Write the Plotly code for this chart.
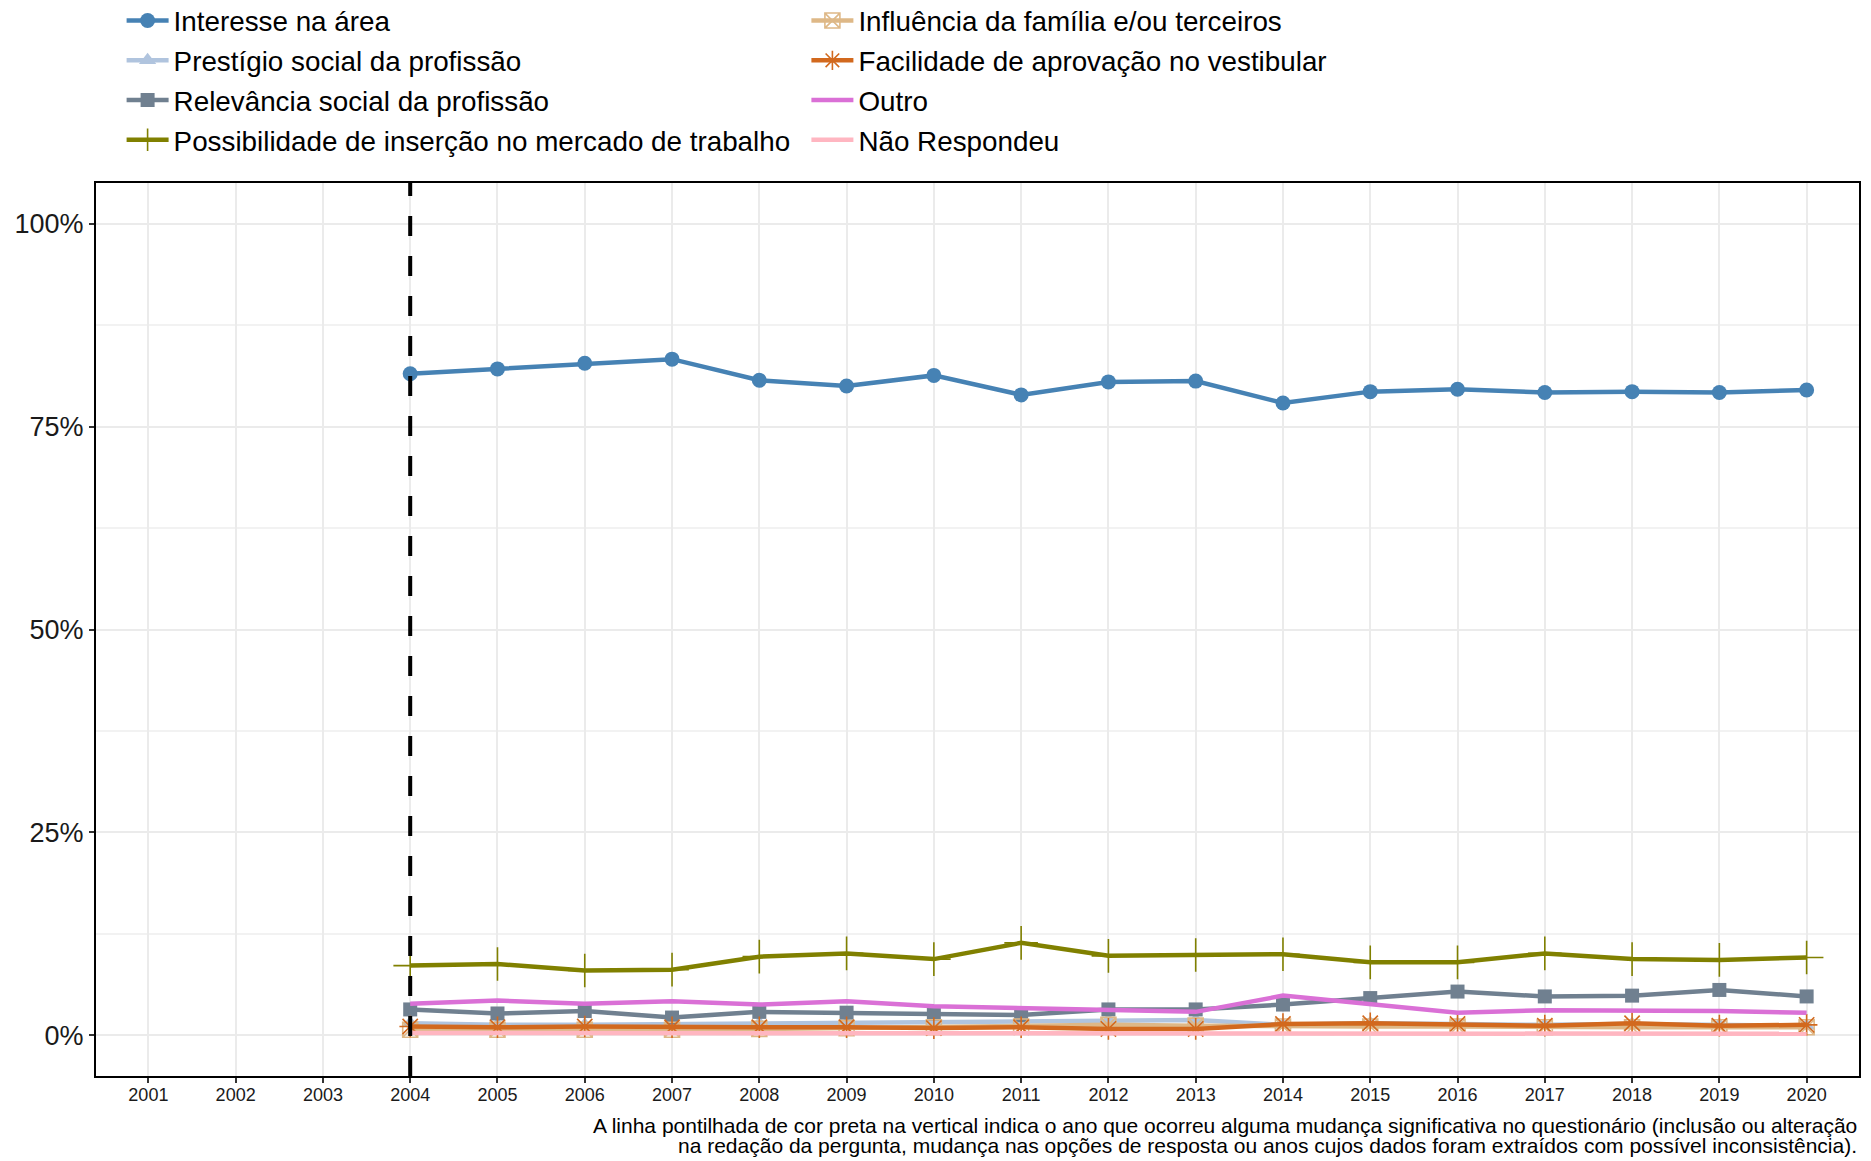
import plotly.graph_objects as go

# ---------------- data ----------------
anos = [2004, 2005, 2006, 2007, 2008, 2009, 2010, 2011, 2012,
        2013, 2014, 2015, 2016, 2017, 2018, 2019, 2020]
anos_eixo = list(range(2001, 2021))
anos_mudanca = [2004]

interesse = [81.5, 82.1, 82.8, 83.3, 80.7, 80.0, 81.3, 78.9, 80.5,
             80.6, 77.9, 79.3, 79.6, 79.2, 79.3, 79.2, 79.5]
prestigio = [1.5, 1.3, 1.3, 1.4, 1.5, 1.5, 1.6, 1.8, 1.9,
             1.9, 1.3, 1.5, 1.4, 1.3, 1.4, 1.3, 1.2]
relevancia = [3.2, 2.7, 3.0, 2.2, 2.9, 2.8, 2.7, 2.5, 3.2,
              3.2, 3.8, 4.6, 5.4, 4.8, 4.9, 5.6, 4.8]
possibilidade = [8.6, 8.8, 8.0, 8.1, 9.7, 10.1, 9.4, 11.4, 9.8,
                 9.9, 10.0, 9.0, 9.0, 10.1, 9.4, 9.3, 9.6]
influencia = [0.7, 0.7, 0.7, 0.7, 0.8, 0.9, 1.0, 1.1, 1.3,
              1.2, 1.1, 1.1, 1.1, 1.0, 1.0, 1.0, 1.0]
facilidade = [1.1, 1.0, 1.1, 1.0, 1.0, 1.0, 0.9, 1.0, 0.8,
              0.8, 1.4, 1.5, 1.4, 1.2, 1.5, 1.2, 1.3]
outro = [3.9, 4.3, 3.9, 4.2, 3.8, 4.2, 3.6, 3.4, 3.1,
         2.9, 4.9, 3.8, 2.8, 3.1, 3.1, 3.0, 2.8]
nao_respondeu = [0.3, 0.3, 0.3, 0.3, 0.3, 0.3, 0.2, 0.2, 0.2,
                 0.2, 0.2, 0.2, 0.2, 0.2, 0.2, 0.2, 0.2]

y_ticks = [0, 25, 50, 75, 100]
y_ticktext = ["0%", "25%", "50%", "75%", "100%"]
y_minor = [12.5, 37.5, 62.5, 87.5]

legenda = "A linha pontilhada de cor preta na vertical indica o ano que ocorreu alguma mudança significativa no questionário (inclusão ou alteração"
legenda2 = "na redação da pergunta, mudança nas opções de resposta ou anos cujos dados foram extraídos com possível inconsistência)."

# name, values, color, symbol, size, filled, legend
series = [
    ("Interesse na área", interesse, "#4682B4", "circle", 15, True, "legend"),
    ("Prestígio social da profissão", prestigio, "#B0C4DE", "triangle-up", 15, True, "legend"),
    ("Relevância social da profissão", relevancia, "#708090", "square", 14, True, "legend"),
    ("Possibilidade de inserção no mercado de trabalho", possibilidade, "#808000", "cross-thin-open", 24, False, "legend"),
    ("Influência da família e/ou terceiros", influencia, "#DEB887", "square-x-open", 15, False, "legend2"),
    ("Facilidade de aprovação no vestibular", facilidade, "#D2691E", "asterisk-open", 18, False, "legend2"),
    ("Outro", outro, "#DA70D6", None, 0, False, "legend2"),
    ("Não Respondeu", nao_respondeu, "#FFB6C1", None, 0, False, "legend2"),
]

FONT = "Liberation Sans, Arial, sans-serif"
W, H = 1871, 1161
PLOT_LEFT, PLOT_RIGHT = 96, 1859
PLOT_TOP, PLOT_BOTTOM = 183, 1076
plot_w = PLOT_RIGHT - PLOT_LEFT
plot_h = PLOT_BOTTOM - PLOT_TOP

fig = go.Figure()
for name, vals, color, symbol, size, filled, leg in series:
    kw = dict(x=anos, y=vals, name=name, legend=leg, legendgroup=name,
              line=dict(color=color, width=4.5))
    if symbol:
        kw["mode"] = "lines+markers"
        if filled:
            kw["marker"] = dict(symbol=symbol, size=size, color=color)
        else:
            kw["marker"] = dict(symbol=symbol, size=size, color=color,
                                line=dict(color=color, width=1.6))
    else:
        kw["mode"] = "lines"
    fig.add_trace(go.Scatter(**kw))

for ano in anos_mudanca:
    fig.add_vline(x=ano, line=dict(color="black", width=4, dash="20px,20px"), layer="above")

leg_common = dict(xref="paper", yref="paper", xanchor="left", yanchor="top",
                  orientation="v", font=dict(size=27.8, family=FONT, color="black"),
                  tracegroupgap=0.6, itemwidth=42, bgcolor="rgba(0,0,0,0)")
leg_top_px = -4
leg_y = (PLOT_BOTTOM - leg_top_px) / plot_h

fig.update_layout(
    width=W, height=H,
    margin=dict(l=PLOT_LEFT, r=W - PLOT_RIGHT, t=PLOT_TOP, b=H - PLOT_BOTTOM, autoexpand=False),
    paper_bgcolor="white", plot_bgcolor="white",
    font=dict(family=FONT, color="#1A1A1A"),
    showlegend=True,
    legend=dict(x=(121.6 - PLOT_LEFT) / plot_w, y=leg_y, **leg_common),
    legend2=dict(x=(806.4 - PLOT_LEFT) / plot_w, y=leg_y, **leg_common),
    xaxis=dict(range=[2000.4, 2020.6], tickmode="array", tickvals=anos_eixo,
               ticks="outside", ticklen=5, tickwidth=1.5, tickcolor="#333333",
               ticklabelstandoff=-4,
               showgrid=True, gridcolor="#EBEBEB", gridwidth=2,
               showline=True, mirror=True, linecolor="black", linewidth=2,
               zeroline=False, tickfont=dict(size=18, color="#1A1A1A")),
    yaxis=dict(range=[-5, 105], tickmode="array", tickvals=y_ticks, ticktext=y_ticktext,
               ticks="outside", ticklen=5, tickwidth=1.5, tickcolor="#333333",
               showgrid=True, gridcolor="#EBEBEB", gridwidth=2,
               minor=dict(tickmode="array", tickvals=y_minor, showgrid=True,
                          gridcolor="#F2F2F2", gridwidth=1.5, ticks=""),
               showline=True, mirror=True, linecolor="black", linewidth=2,
               zeroline=False, tickfont=dict(size=27, color="#1A1A1A")),
)

for i, txt in enumerate([legenda, legenda2]):
    ypix = 1125 + 20.5 * i
    fig.add_annotation(text=txt, xref="paper", x=1.0, xanchor="right",
                       yref="paper", y=(PLOT_BOTTOM - ypix) / plot_h, yanchor="middle",
                       showarrow=False, font=dict(size=21, family=FONT, color="black"))

fig.write_html("out.html", config={"displayModeBar": False},
               post_script="document.body.style.margin='0';document.body.style.overflow='hidden';")
